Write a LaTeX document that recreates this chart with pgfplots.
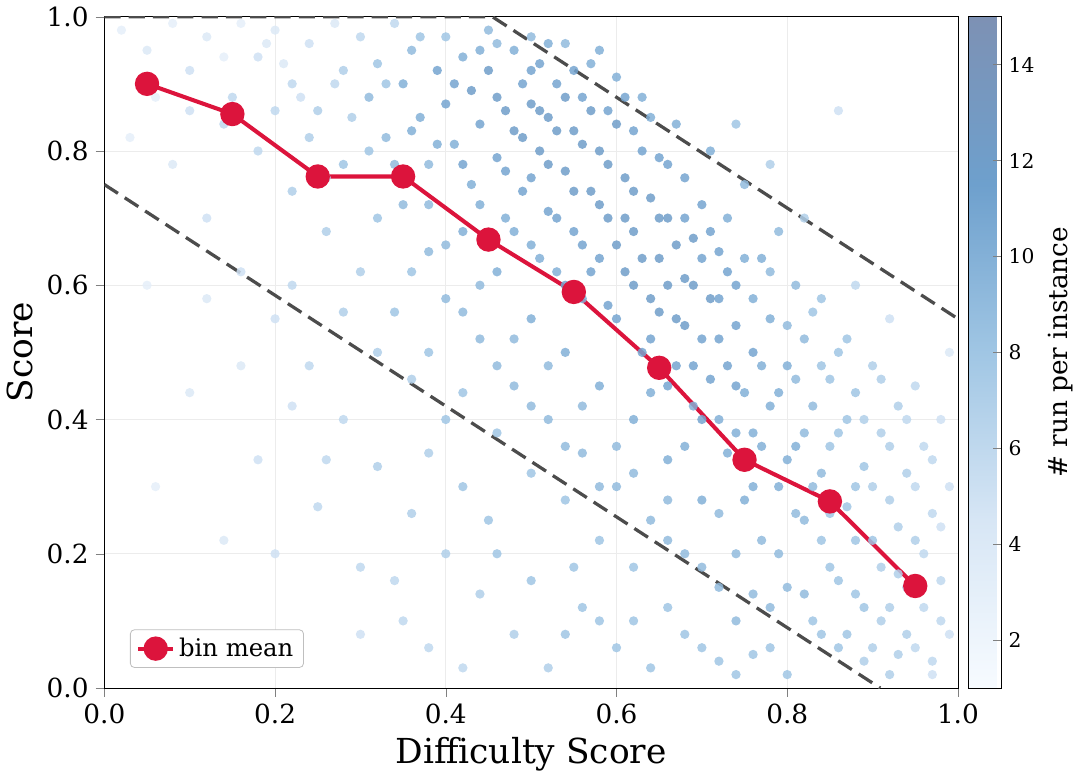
\documentclass[border=0pt]{standalone}
\usepackage{pgfplots}
\pgfplotsset{compat=1.18}
\usepackage{fontspec}
\setmainfont{DejaVu Serif}
\pgfplotstableread{
x y c
0.02 0.98 3
0.05 0.95 4
0.08 0.99 3
0.10 0.92 5
0.12 0.97 4
0.15 0.88 6
0.16 0.99 3
0.18 0.94 5
0.20 0.98 4
0.22 0.90 6
0.24 0.96 5
0.25 0.86 7
0.27 0.99 4
0.28 0.92 7
0.30 0.97 6
0.31 0.88 9
0.32 0.93 8
0.33 0.82 9
0.34 0.99 6
0.35 0.90 10
0.36 0.95 9
0.37 0.85 10
0.38 0.78 9
0.39 0.92 11
0.40 0.97 8
0.40 0.87 11
0.41 0.81 10
0.42 0.94 10
0.43 0.89 12
0.43 0.75 10
0.44 0.84 11
0.45 0.98 9
0.45 0.92 12
0.46 0.79 11
0.47 0.86 12
0.47 0.70 10
0.48 0.95 10
0.48 0.83 12
0.49 0.90 11
0.49 0.74 11
0.50 0.97 9
0.50 0.87 12
0.50 0.66 10
0.51 0.80 12
0.51 0.93 11
0.52 0.71 11
0.52 0.85 12
0.53 0.90 11
0.53 0.62 10
0.54 0.77 12
0.54 0.96 9
0.55 0.83 12
0.55 0.68 11
0.56 0.88 11
0.56 0.58 10
0.57 0.74 12
0.57 0.93 10
0.58 0.80 12
0.58 0.64 11
0.59 0.86 11
0.59 0.70 12
0.60 0.91 10
0.60 0.55 11
0.61 0.76 12
0.61 0.62 12
0.62 0.83 11
0.62 0.68 12
0.63 0.50 11
0.63 0.88 10
0.64 0.73 12
0.64 0.58 12
0.65 0.79 11
0.65 0.64 12
0.66 0.45 11
0.66 0.70 12
0.67 0.84 10
0.67 0.55 12
0.68 0.61 12
0.68 0.76 11
0.69 0.48 11
0.69 0.67 12
0.70 0.72 11
0.70 0.40 11
0.71 0.58 12
0.71 0.80 10
0.72 0.52 11
0.72 0.65 11
0.73 0.35 10
0.73 0.70 10
0.74 0.45 11
0.74 0.60 11
0.75 0.28 10
0.75 0.75 9
0.76 0.50 11
0.76 0.38 10
0.77 0.64 10
0.77 0.22 9
0.78 0.42 10
0.78 0.55 10
0.79 0.30 10
0.79 0.68 9
0.80 0.15 9
0.80 0.48 10
0.81 0.36 10
0.81 0.60 9
0.82 0.25 9
0.82 0.52 9
0.83 0.10 8
0.83 0.42 9
0.84 0.32 9
0.84 0.58 8
0.85 0.18 8
0.85 0.46 8
0.86 0.06 8
0.86 0.38 8
0.87 0.27 8
0.87 0.52 8
0.88 0.14 8
0.88 0.44 8
0.89 0.33 8
0.89 0.04 7
0.90 0.22 8
0.90 0.48 7
0.91 0.10 7
0.91 0.38 7
0.92 0.28 7
0.92 0.02 7
0.93 0.17 7
0.93 0.42 7
0.94 0.08 7
0.94 0.32 7
0.95 0.22 7
0.95 0.45 6
0.96 0.12 6
0.96 0.36 6
0.97 0.04 6
0.97 0.26 6
0.98 0.16 6
0.98 0.40 5
0.99 0.08 5
0.99 0.30 5
0.35 0.72 9
0.38 0.65 9
0.40 0.58 9
0.42 0.68 10
0.44 0.52 9
0.46 0.62 10
0.48 0.45 9
0.50 0.55 10
0.52 0.40 9
0.54 0.50 10
0.56 0.35 9
0.58 0.45 10
0.60 0.30 9
0.62 0.40 10
0.64 0.25 9
0.66 0.34 10
0.68 0.20 9
0.70 0.28 10
0.72 0.15 9
0.74 0.10 9
0.76 0.05 8
0.78 0.12 9
0.70 0.06 8
0.66 0.12 8
0.62 0.18 8
0.58 0.22 8
0.54 0.28 8
0.50 0.32 8
0.46 0.38 8
0.42 0.44 8
0.38 0.50 8
0.34 0.56 8
0.30 0.62 7
0.26 0.68 7
0.22 0.74 7
0.18 0.80 6
0.14 0.84 6
0.10 0.86 5
0.28 0.78 8
0.24 0.82 7
0.20 0.86 6
0.32 0.70 8
0.12 0.70 5
0.08 0.78 4
0.16 0.62 5
0.20 0.55 5
0.24 0.48 6
0.28 0.40 6
0.32 0.33 7
0.36 0.26 7
0.40 0.20 7
0.44 0.14 7
0.48 0.08 7
0.52 0.03 7
0.30 0.18 6
0.25 0.27 6
0.18 0.34 5
0.10 0.44 4
0.14 0.22 4
0.35 0.10 6
0.42 0.03 6
0.22 0.60 6
0.56 0.12 8
0.60 0.06 8
0.64 0.03 8
0.45 0.25 8
0.38 0.35 7
0.55 0.18 8
0.60 0.36 9
0.66 0.22 9
0.72 0.04 8
0.80 0.02 8
0.84 0.22 8
0.88 0.60 6
0.92 0.55 5
0.82 0.70 7
0.78 0.78 7
0.86 0.86 5
0.74 0.84 8
0.97 0.02 5
0.99 0.50 4
0.05 0.60 3
0.03 0.82 3
0.06 0.30 3
0.36 0.83 10
0.37 0.97 8
0.39 0.81 10
0.41 0.90 11
0.42 0.78 11
0.44 0.95 10
0.44 0.72 10
0.46 0.88 12
0.46 0.96 9
0.47 0.77 11
0.48 0.68 10
0.49 0.82 12
0.50 0.92 11
0.50 0.76 11
0.51 0.86 12
0.51 0.64 10
0.52 0.96 10
0.52 0.78 12
0.53 0.83 12
0.53 0.70 11
0.54 0.88 12
0.54 0.60 11
0.55 0.92 11
0.55 0.74 12
0.56 0.81 12
0.56 0.66 11
0.57 0.86 12
0.57 0.62 11
0.58 0.95 10
0.58 0.72 12
0.59 0.78 12
0.59 0.57 11
0.60 0.84 12
0.60 0.66 12
0.61 0.88 11
0.61 0.70 12
0.62 0.60 12
0.62 0.74 12
0.63 0.80 11
0.63 0.64 12
0.64 0.52 11
0.64 0.85 10
0.65 0.70 12
0.65 0.56 12
0.66 0.60 12
0.66 0.78 11
0.67 0.66 12
0.67 0.48 11
0.68 0.70 11
0.68 0.54 12
0.69 0.60 12
0.69 0.42 10
0.70 0.64 11
0.70 0.52 11
0.71 0.46 11
0.71 0.68 11
0.72 0.58 11
0.72 0.40 10
0.73 0.62 11
0.73 0.48 11
0.74 0.54 11
0.74 0.38 10
0.75 0.44 10
0.75 0.64 10
0.76 0.58 10
0.76 0.30 10
0.77 0.48 10
0.77 0.36 10
0.78 0.62 9
0.79 0.44 10
0.79 0.20 9
0.80 0.54 9
0.80 0.34 10
0.81 0.26 9
0.81 0.46 9
0.82 0.38 9
0.82 0.14 9
0.83 0.30 9
0.83 0.56 8
0.84 0.08 8
0.84 0.48 8
0.85 0.36 8
0.85 0.26 8
0.86 0.16 8
0.86 0.50 8
0.87 0.40 8
0.87 0.08 8
0.88 0.30 8
0.88 0.22 8
0.89 0.12 8
0.89 0.40 7
0.90 0.30 7
0.90 0.06 7
0.91 0.18 7
0.91 0.46 7
0.92 0.36 7
0.92 0.12 7
0.93 0.24 7
0.93 0.05 7
0.94 0.40 6
0.94 0.15 7
0.95 0.30 6
0.95 0.06 6
0.96 0.20 6
0.97 0.34 6
0.98 0.10 6
0.98 0.24 5
0.62 0.32 9
0.64 0.44 10
0.66 0.28 9
0.68 0.36 10
0.70 0.18 9
0.72 0.26 9
0.74 0.20 9
0.76 0.14 9
0.78 0.06 8
0.58 0.30 9
0.56 0.42 9
0.54 0.36 9
0.52 0.48 9
0.50 0.42 9
0.48 0.52 9
0.46 0.48 9
0.44 0.60 9
0.42 0.56 9
0.40 0.66 9
0.38 0.72 9
0.36 0.62 8
0.34 0.78 9
0.33 0.90 8
0.31 0.80 8
0.29 0.85 7
0.27 0.90 6
0.26 0.76 7
0.23 0.88 5
0.21 0.93 4
0.19 0.96 4
0.14 0.94 3
0.06 0.88 3
0.58 0.10 8
0.54 0.08 8
0.50 0.16 8
0.46 0.20 8
0.42 0.30 8
0.40 0.40 8
0.36 0.46 7
0.32 0.50 7
0.28 0.56 7
0.26 0.34 6
0.22 0.42 5
0.20 0.20 5
0.16 0.48 4
0.12 0.58 4
0.34 0.16 6
0.38 0.06 6
0.30 0.08 5
0.62 0.10 8
0.68 0.08 8
0.74 0.02 8
}\pts
\begin{document}
\begin{tikzpicture}
\begin{axis}[
  width=421.5pt, height=331.5pt, scale only axis,
  xmin=0, xmax=1, ymin=0, ymax=1,
  xtick={0,0.2,...,1}, ytick={0,0.2,...,1},
  xtick pos=left, ytick pos=left,
  /pgf/number format/fixed, /pgf/number format/fixed zerofill, /pgf/number format/precision=1,
  /pgf/number format/assume math mode=true,
  ticklabel style={font=\fontsize{13}{15}\selectfont},
  label style={font=\fontsize{17}{20}\selectfont},
  xlabel={Difficulty Score}, ylabel={Score},
  grid=major, grid style={gray!15},
  tick align=outside,
  colormap={b}{rgb255=(247,251,255) rgb255=(215,230,245) rgb255=(160,198,228) rgb255=(110,160,205) rgb255=(125,145,180)},
  point meta min=1, point meta max=15,
  colorbar,
  colorbar style={width=16.5pt, at={(1.012,1)}, anchor=north west,
    ytick={2,4,...,14}, ytick pos=right, ylabel={\# run per instance},
    ticklabel style={font=\fontsize{10}{12}\selectfont},
    ylabel style={font=\fontsize{13}{15}\selectfont},
    /pgf/number format/assume math mode=true},
  legend pos=south west,
  legend style={font=\fontsize{12}{14}\selectfont, draw=gray!50, rounded corners=2pt},
]
\addplot[scatter, only marks, mark=*, mark size=2.3pt, fill opacity=0.85, draw opacity=0, scatter src=explicit, forget plot]
  table[x=x,y=y,meta=c]{\pts};
\addplot[dashed, line width=1.6pt, color=black!70, dash pattern=on 8pt off 4pt, forget plot]
  coordinates {(0,1) (0.4545,1) (1,0.55)};
\addplot[dashed, line width=1.6pt, color=black!70, dash pattern=on 8pt off 4pt, forget plot]
  coordinates {(0,0.75) (0.909,0)};
\addplot[color={rgb,255:red,220;green,20;blue,60}, line width=2pt, mark=*, mark size=5pt]
  coordinates {(0.05,0.90)(0.15,0.855)(0.25,0.762)(0.35,0.762)(0.45,0.668)(0.55,0.59)(0.65,0.477)(0.75,0.34)(0.85,0.278)(0.95,0.152)};
\addlegendentry{bin mean}
\end{axis}
\end{tikzpicture}
\end{document}
